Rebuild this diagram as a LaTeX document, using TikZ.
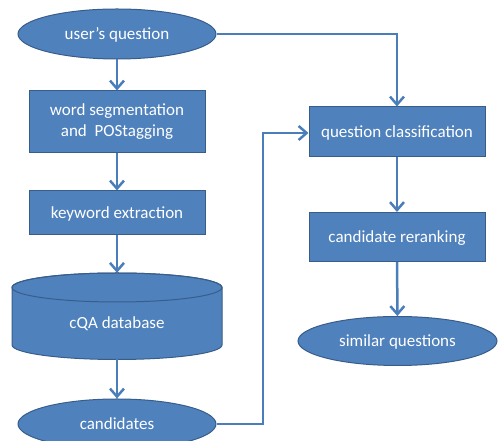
\documentclass[tikz,border=0pt]{standalone}
\usepackage{fontspec}
\setmainfont{Carlito}
\usetikzlibrary{shapes.geometric,arrows.meta}
\definecolor{boxfill}{HTML}{4F81BD}
\definecolor{boxline}{HTML}{385D8A}
\definecolor{flow}{HTML}{4A7EBB}
\begin{document}
\begin{tikzpicture}[x=1pt,y=1pt,
  every node/.style={text=white,font=\fontsize{17}{21}\selectfont,inner sep=0pt},
  oneline/.style={text height=16pt,text depth=4pt},
  procbox/.style={rectangle,fill=boxfill,draw=boxline,line width=1pt,minimum width=176pt,align=center},
  terminal/.style={ellipse,fill=boxfill,draw=boxline,line width=1pt,minimum width=198pt,minimum height=50pt,oneline},
  flowline/.style={draw=flow,line width=2.5pt,-{Straight Barb[length=8pt,width=14pt,line width=2.5pt]}}]
\useasboundingbox (0,0) rectangle (499,441);
\clip (0,0) rectangle (499,441);

% left column
\node[terminal] (uq) at (117,407) {user’s question};
\node[procbox,minimum height=62pt] (ws) at (117,319)
  {\raisebox{-2pt}{\begin{tabular}{@{}c@{}}word segmentation\\and\ \ POStagging\end{tabular}}};
\node[procbox,oneline,minimum height=44pt] (kw) at (117,228) {keyword extraction};

% database drum
\fill[boxfill,draw=boxline,line width=1pt]
  (12,153.5) -- (12,96) arc[start angle=180,end angle=360,x radius=105,y radius=14.5]
  -- (222,153.5) arc[start angle=0,end angle=180,x radius=105,y radius=14.5] -- cycle;
\draw[boxline,line width=1pt] (117,153.5) ellipse[x radius=105,y radius=14.5];
\node[minimum width=210pt,minimum height=86pt] (db) at (117,125) {};
\node[oneline] (dblabel) at (117,118) {cQA database};

\node[terminal] (cand) at (117,17) {candidates};

% right column
\node[procbox,oneline,minimum height=50pt] (qc) at (397,309) {question classification};
\node[procbox,oneline,minimum height=49pt] (cr) at (397,204) {candidate reranking};
\node[terminal,minimum width=199pt,minimum height=49pt] (sq) at (397.5,100) {similar questions};

\coordinate (uqturn) at (397,407);
\coordinate (candturn) at (263,17);
\coordinate (candup) at (263,308);

% connectors
\path[flowline] (uq) -- (ws);
\path[flowline] (ws) -- (kw);
\path[flowline] (kw) -- (db.north);
\path[flowline] (db.south) -- (cand);
\path[flowline] (uq.east) -- (uqturn) -- (qc.north);
\path[flowline] (cand.east) -- (candturn) -- (candup) -- (qc.west |- candup);
\path[flowline] (qc) -- (cr);
\path[flowline] (cr) -- (sq);
\end{tikzpicture}
\end{document}
